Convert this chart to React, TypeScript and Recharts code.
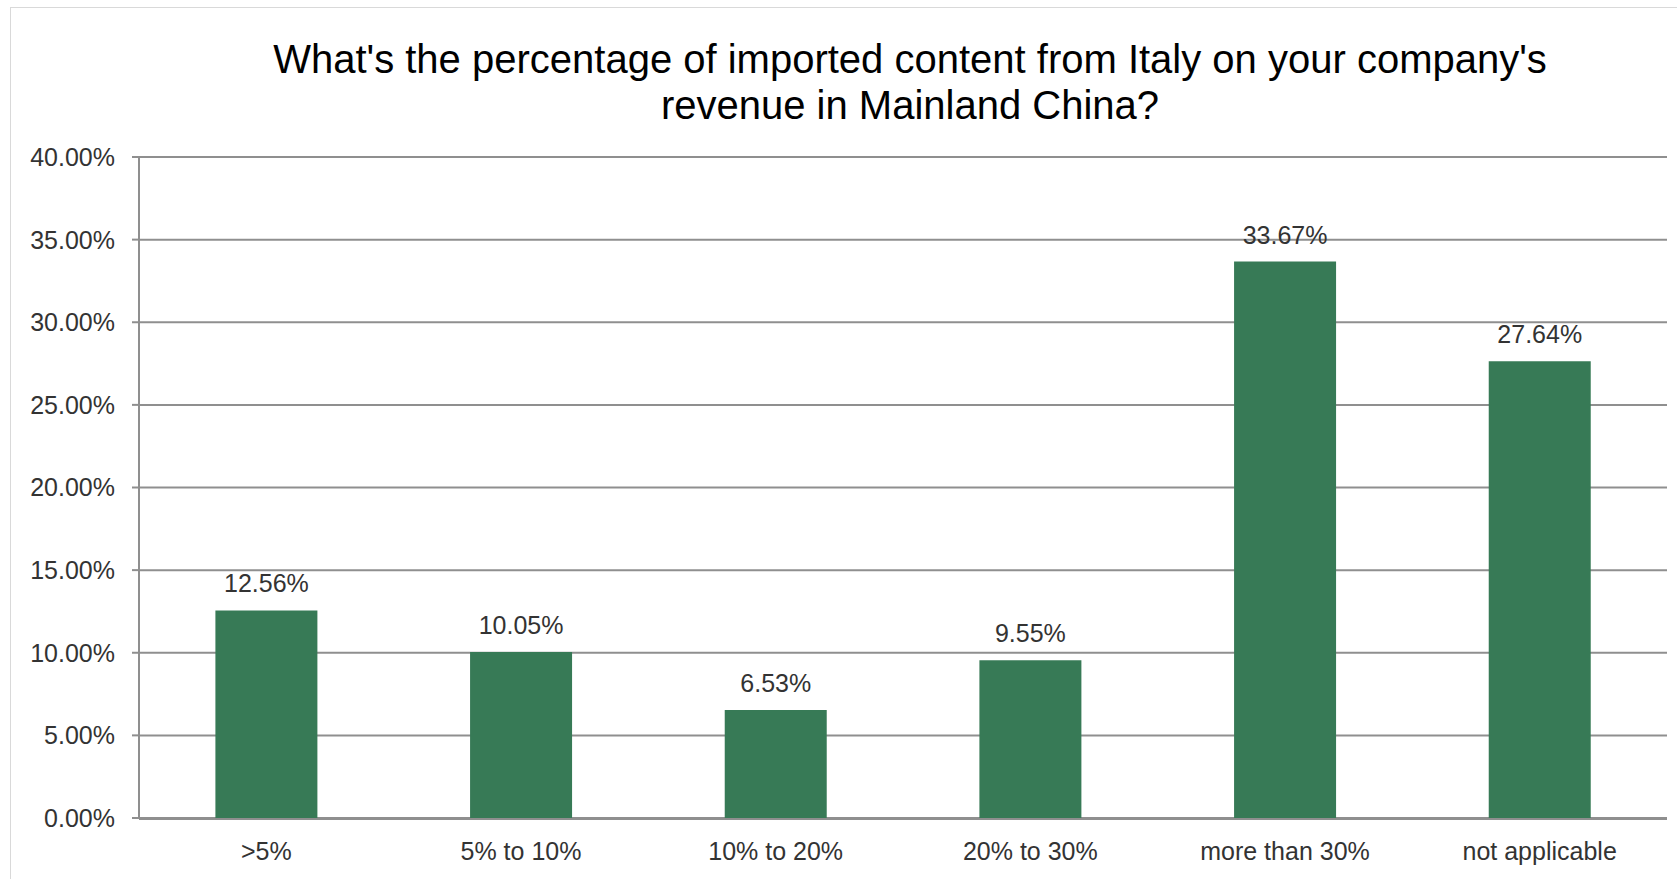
import React from "react";
import { BarChart, Bar, XAxis, YAxis, CartesianGrid, LabelList } from "recharts";

const categories = [">5%", "5% to 10%", "10% to 20%", "20% to 30%", "more than 30%", "not applicable"];
const shares = [12.56, 10.05, 6.53, 9.55, 33.67, 27.64];
const yTicks = [0, 5, 10, 15, 20, 25, 30, 35, 40];
const edgeTicks = [0, 1, 2, 3, 4, 5, 6];

const data = categories.map((name, i) => ({ name, value: shares[i] }));

const FONT = "'Liberation Sans', Arial, sans-serif";
const AXIS = "#8f8f8f";
const GREEN = "#377a56";

const pct = (v: number) => `${Number(v).toFixed(2)}%`;

export default function App() {
  return (
    <div style={{ position: "absolute", left: 0, top: 0, width: 1677, height: 879, overflow: "hidden", background: "#fff", fontFamily: FONT }}>
      <div style={{ position: "absolute", left: 10, top: 7, width: 1720, height: 920, border: "1px solid #d9d9d9" }} />
      <div
        style={{
          position: "absolute",
          left: 140,
          top: 36,
          width: 1540,
          textAlign: "center",
          fontSize: 40,
          lineHeight: "46px",
          color: "#000",
        }}
      >
        What's the percentage of imported content from Italy on your company's
        <br />
        revenue in Mainland China?
      </div>
      <div style={{ position: "absolute", left: 0, top: 0 }}>
        <BarChart
          width={1677}
          height={879}
          data={data}
          margin={{ top: 157, right: 10, bottom: 59, left: 0 }}
          barCategoryGap="30%"
        >
          <CartesianGrid vertical={false} stroke={AXIS} strokeWidth={2} />
          <XAxis
            xAxisId="edges"
            type="number"
            domain={[0, 6]}
            ticks={edgeTicks}
            interval={0}
            height={1}
            tick={false}
            tickSize={7}
            axisLine={{ stroke: AXIS, strokeWidth: 2 }}
            tickLine={{ stroke: AXIS, strokeWidth: 2 }}
            allowDataOverflow
          />
          <XAxis
            dataKey="name"
            height={1}
            axisLine={false}
            tickLine={false}
            tickSize={7}
            tickMargin={17}
            interval={0}
            tick={{ fill: "#333", fontSize: 25, fontFamily: FONT }}
          />
          <YAxis
            width={139}
            domain={[0, 40]}
            ticks={yTicks}
            interval={0}
            tickFormatter={pct}
            tickSize={7}
            tickMargin={17}
            axisLine={{ stroke: AXIS, strokeWidth: 2 }}
            tickLine={{ stroke: AXIS, strokeWidth: 2 }}
            tick={{ fill: "#333", fontSize: 25, fontFamily: FONT }}
          />
          <Bar dataKey="value" fill={GREEN} isAnimationActive={false}>
            <LabelList
              dataKey="value"
              position="top"
              offset={18}
              formatter={(v: any) => pct(v)}
              style={{ fill: "#333", fontSize: 25, fontFamily: FONT }}
            />
          </Bar>
        </BarChart>
      </div>
    </div>
  );
}
